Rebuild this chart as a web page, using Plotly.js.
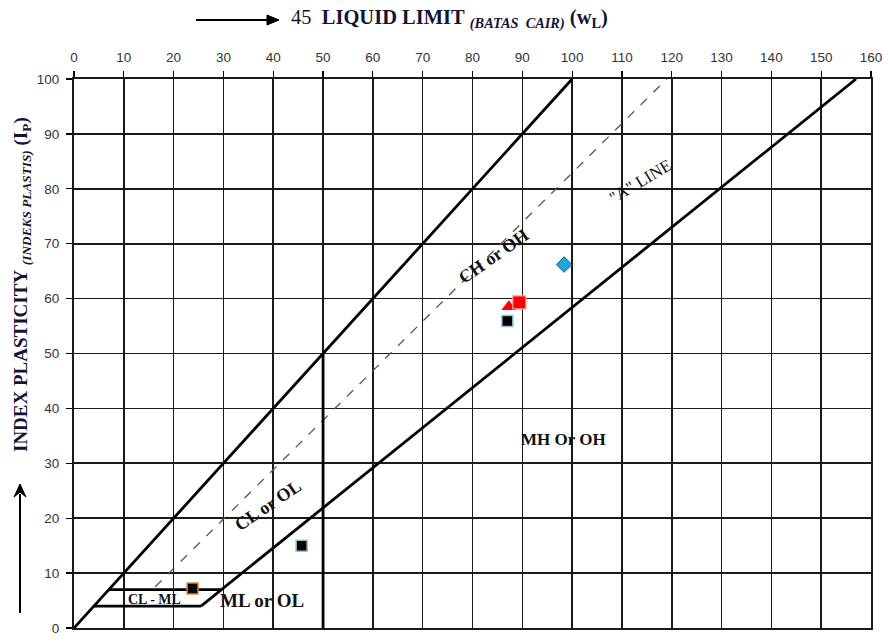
<!DOCTYPE html>
<html>
<head>
<meta charset="utf-8">
<script src="https://cdn.plot.ly/plotly-3.0.1.min.js"></script>
<style>html,body{margin:0;padding:0;background:#fff;}#chart{width:889px;height:643px;}</style>
</head>
<body>
<div id="chart"></div>
<script>
// Boundary lines (liquid limit, plasticity index)
const leftLineX = [0, 100];
const leftLineY = [0, 100];
const aLineX = [25.5, 157];
const aLineY = [4, 100];
const uLineX = [16.3, 119];
const uLineY = [7.5, 100];
const clmlTopX = [7, 29.6];
const clmlTopY = [7, 7];
const clmlBotX = [4, 25.5];
const clmlBotY = [4, 4];
const wl50X = [50, 50];
const wl50Y = [0, 50];

// Sample points
const sqBlueX = [87.0, 45.7];
const sqBlueY = [55.9, 15.0];
const triRedX = [87.3];
const triRedY = [58.5];
const sqRedX = [89.4];
const sqRedY = [59.3];
const diamondX = [98.4];
const diamondY = [66.2];
const sqOrangeX = [23.8];
const sqOrangeY = [7.2];

// Tick values
const xTicks = [0,10,20,30,40,50,60,70,80,90,100,110,120,130,140,150,160];
const yTicks = [0,10,20,30,40,50,60,70,80,90,100];

const thick = {color: '#000', width: 2.8};
function lineTrace(x, y, line) {
  return {x: x, y: y, mode: 'lines', line: line, showlegend: false, hoverinfo: 'skip'};
}
const traces = [
  lineTrace(uLineX, uLineY, {color: '#555', width: 1.3, dash: 'dash'}),
  lineTrace(leftLineX, leftLineY, thick),
  lineTrace(aLineX, aLineY, thick),
  lineTrace(clmlTopX, clmlTopY, thick),
  lineTrace(clmlBotX, clmlBotY, thick),
  lineTrace(wl50X, wl50Y, thick),
  {x: triRedX, y: triRedY, mode: 'markers', showlegend: false,
   marker: {symbol: 'triangle-up', size: 13, color: '#ff0000', line: {color: '#ff0000', width: 0}}},
  {x: sqRedX, y: sqRedY, mode: 'markers', showlegend: false,
   marker: {symbol: 'square', size: 13, color: '#ff0000', line: {color: '#f4a0a0', width: 1.2}}},
  {x: sqBlueX, y: sqBlueY, mode: 'markers', showlegend: false,
   marker: {symbol: 'square', size: 11, color: '#000', line: {color: '#8fc0dc', width: 1.5}}},
  {x: diamondX, y: diamondY, mode: 'markers', showlegend: false,
   marker: {symbol: 'diamond', size: 12, color: '#1fa3dd', line: {color: '#1a5c80', width: 1}}},
  {x: sqOrangeX, y: sqOrangeY, mode: 'markers', showlegend: false,
   marker: {symbol: 'square', size: 11, color: '#000', line: {color: '#e8832e', width: 1.5}}}
];

const serif = 'Liberation Serif, Times New Roman, serif';
function lab(text, x, y, size, angle) {
  return {text: text, x: x, y: y, xref: 'x', yref: 'y', showarrow: false,
          textangle: angle || 0, font: {family: serif, size: size, color: '#111'}};
}
const PX = px => (px - 74) / 797;
const PY = py => (628 - py) / 549;

const annotations = [
  lab('<b>CH or OH</b>', 84.3, 67.8, 18, -35),
  lab('"A" LINE', 113.7, 81.3, 17, -31),
  lab('<b>CL or OL</b>', 39.0, 22.4, 18, -34),
  lab('<b>MH Or OH</b>', 98.3, 34.4, 17, 0),
  lab('<b>CL - ML</b>', 16.1, 5.2, 14, 0),
  lab('<b>ML or OL</b>', 37.7, 5.1, 19, 0),
  // x title
  {text: '45  <b>LIQUID LIMIT</b> <i><b><sub style="font-size:8px">(BATAS  CAIR)</sub></b></i> <b>(w<sub>L</sub>)</b>',
   x: PX(289), y: PY(19), xref: 'paper', yref: 'paper', xanchor: 'left', yanchor: 'middle',
   showarrow: false, font: {family: serif, size: 20.5, color: '#141432'}},
  // y title
  {text: '<b>INDEX PLASTICITY</b> <i><b><sub style="font-size:8px">(INDEKS PLASTIS)</sub></b></i> <b>(I<sub>P</sub>)</b>',
   x: PX(22), y: PY(285), xref: 'paper', yref: 'paper', xanchor: 'center', yanchor: 'middle',
   textangle: -90, showarrow: false, font: {family: serif, size: 19, color: '#141432'}}
];

function p(px, py) { return PX(px).toFixed(5) + ',' + PY(py).toFixed(5); }
const shapes = [
  {type: 'line', xref: 'paper', yref: 'paper', x0: PX(196), y0: PY(20), x1: PX(270), y1: PY(20),
   line: {color: '#000', width: 2}},
  {type: 'path', xref: 'paper', yref: 'paper',
   path: 'M' + p(267, 15) + 'L' + p(279, 20) + 'L' + p(267, 25) + 'Z',
   fillcolor: '#000', line: {color: '#000', width: 1}},
  {type: 'line', xref: 'paper', yref: 'paper', x0: PX(20), y0: PY(613), x1: PX(20), y1: PY(494),
   line: {color: '#000', width: 2}},
  {type: 'path', xref: 'paper', yref: 'paper',
   path: 'M' + p(14, 497) + 'L' + p(20, 484) + 'L' + p(26, 497) + 'L' + p(20, 492) + 'Z',
   fillcolor: '#000', line: {color: '#000', width: 1}}
];

const tickFont = {family: 'Liberation Sans, Arial, sans-serif', size: 13.5, color: '#333'};
const layout = {
  width: 889, height: 643,
  margin: {l: 74, r: 18, t: 79, b: 15, pad: 0},
  paper_bgcolor: '#fff', plot_bgcolor: '#fff',
  showlegend: false,
  xaxis: {
    range: [0, 160], side: 'top', tickvals: xTicks, ticktext: xTicks.map(String),
    showgrid: true, gridcolor: '#1a1a1a', gridwidth: 1.6, zeroline: false,
    showline: true, mirror: true, linecolor: '#1a1a1a', linewidth: 2,
    ticks: 'outside', ticklen: 6, tickwidth: 1.2, tickcolor: '#000',
    ticklabelstandoff: 4, tickfont: tickFont
  },
  yaxis: {
    range: [0, 100], tickvals: yTicks, ticktext: yTicks.map(String),
    showgrid: true, gridcolor: '#1a1a1a', gridwidth: 1.6, zeroline: false,
    showline: true, mirror: true, linecolor: '#1a1a1a', linewidth: 2,
    ticks: 'outside', ticklen: 6, tickwidth: 1.2, tickcolor: '#000',
    ticklabelstandoff: 4, tickfont: tickFont
  },
  annotations: annotations,
  shapes: shapes
};

Plotly.newPlot('chart', traces, layout, {displayModeBar: false, staticPlot: true});
</script>
</body>
</html>
